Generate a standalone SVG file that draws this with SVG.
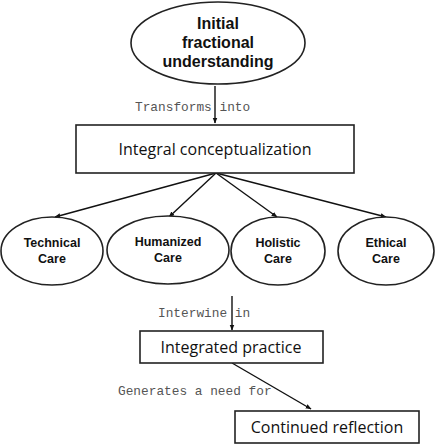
<svg xmlns="http://www.w3.org/2000/svg" width="435" height="447" viewBox="0 0 435 447">
<style>
.shape{fill:#fff;stroke:#222;stroke-width:1.6}
.bold{font-family:"Liberation Sans",Arial,sans-serif;font-weight:bold;fill:#111;text-anchor:middle}
.reg{font-family:"Open Sans","Liberation Sans",Arial,sans-serif;fill:#111;text-anchor:middle;font-size:16px}
.mono{font-family:"Liberation Mono","Courier New",monospace;fill:#555;font-size:12.8px}
.conn{stroke:#111;stroke-width:1.4;fill:none;marker-end:url(#ah)}
</style>
<defs>
<marker id="ah" viewBox="0 0 10 10" refX="9" refY="5" markerWidth="6" markerHeight="6" orient="auto" markerUnits="userSpaceOnUse">
<path d="M0,1 L10,5 L0,9 z" fill="#111"/>
</marker>
</defs>
<rect width="435" height="447" fill="#fff"/>
<g id="connectors">
<line class="conn" x1="215" y1="86" x2="215" y2="123"/>
<line class="conn" x1="216" y1="173" x2="55" y2="217"/>
<line class="conn" x1="216" y1="173" x2="169" y2="217"/>
<line class="conn" x1="216" y1="173" x2="277" y2="217"/>
<line class="conn" x1="216" y1="173" x2="386" y2="217"/>
<line class="conn" x1="232" y1="296" x2="232" y2="330"/>
<line class="conn" x1="232" y1="363" x2="311" y2="409"/>
<text class="mono" x="135" y="111">Transforms into</text>
<text class="mono" x="158" y="317">Interwine in</text>
<text class="mono" x="118" y="395">Generates a need for</text>
</g>
<g id="initial">
<ellipse class="shape" cx="218" cy="43" rx="87" ry="41"/>
<text class="bold" font-size="16" x="218" y="29">Initial</text>
<text class="bold" font-size="16" x="218" y="48">fractional</text>
<text class="bold" font-size="16" x="218" y="67">understanding</text>
</g>
<g id="integral">
<rect class="shape" x="76" y="125" width="278" height="48"/>
<text class="reg" x="215" y="155">Integral conceptualization</text>
</g>
<g id="technical">
<ellipse class="shape" cx="52" cy="251" rx="51" ry="34"/>
<text class="bold" font-size="12.5" x="52" y="247">Technical</text>
<text class="bold" font-size="12.5" x="52" y="263">Care</text>
</g>
<g id="humanized">
<ellipse class="shape" cx="168" cy="250" rx="61" ry="34"/>
<text class="bold" font-size="12.5" x="168" y="246">Humanized</text>
<text class="bold" font-size="12.5" x="168" y="262">Care</text>
</g>
<g id="holistic">
<ellipse class="shape" cx="278" cy="251" rx="47" ry="34"/>
<text class="bold" font-size="12.5" x="278" y="247">Holistic</text>
<text class="bold" font-size="12.5" x="278" y="263">Care</text>
</g>
<g id="ethical">
<ellipse class="shape" cx="386" cy="251" rx="48" ry="34"/>
<text class="bold" font-size="12.5" x="386" y="247">Ethical</text>
<text class="bold" font-size="12.5" x="386" y="263">Care</text>
</g>
<g id="integrated">
<rect class="shape" x="140" y="331" width="183" height="32"/>
<text class="reg" x="231" y="353">Integrated practice</text>
</g>
<g id="continued">
<rect class="shape" x="235" y="411" width="184" height="32"/>
<text class="reg" x="327" y="433">Continued reflection</text>
</g>
</svg>
